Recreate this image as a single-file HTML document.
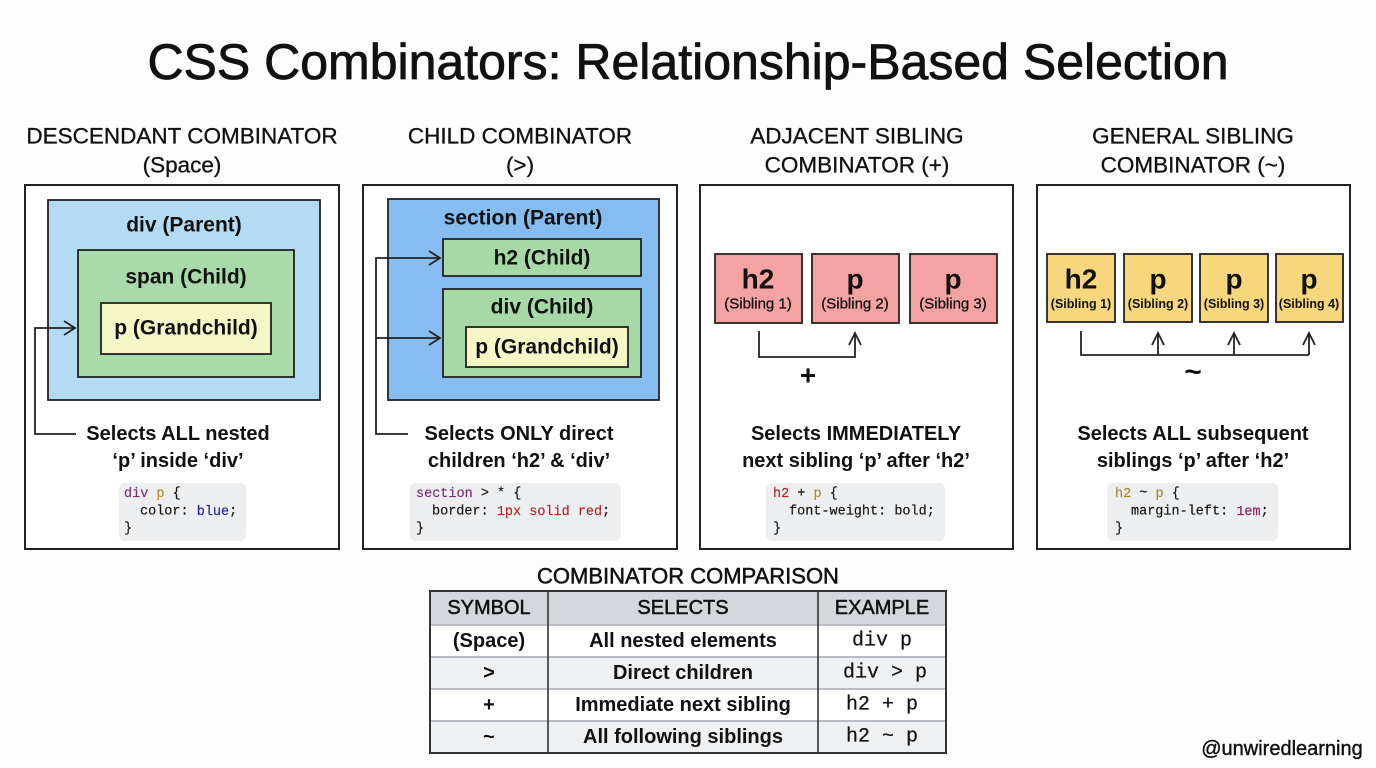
<!DOCTYPE html>
<html><head><meta charset="utf-8">
<style>
html,body{margin:0;padding:0;background:#fdfdfd;}
svg{display:block;}
.h{font-family:"Liberation Sans",sans-serif;fill:#111;}
.m{font-family:"Liberation Mono",monospace;}
</style></head>
<body>
<svg width="1376" height="768" viewBox="0 0 1376 768" xmlns="http://www.w3.org/2000/svg">
<rect width="1376" height="768" fill="#fdfdfd"/>
<!-- Title -->
<text x="688" y="62" class="h" font-size="50" text-anchor="middle" dominant-baseline="central" stroke="#111" stroke-width="0.8">CSS Combinators: Relationship-Based Selection</text>

<!-- Headers -->
<g class="h" font-size="22.5" text-anchor="middle" dominant-baseline="central" stroke="#111" stroke-width="0.3">
<text x="182" y="136">DESCENDANT COMBINATOR</text>
<text x="182" y="165">(Space)</text>
<text x="520" y="136">CHILD COMBINATOR</text>
<text x="520" y="165">(&gt;)</text>
<text x="857" y="136">ADJACENT SIBLING</text>
<text x="857" y="165">COMBINATOR (+)</text>
<text x="1193" y="136">GENERAL SIBLING</text>
<text x="1193" y="165">COMBINATOR (~)</text>
</g>

<!-- Panels -->
<g fill="#fff" stroke="#222" stroke-width="2">
<rect x="25" y="185" width="314" height="364"/>
<rect x="363" y="185" width="314" height="364"/>
<rect x="700" y="185" width="313" height="364"/>
<rect x="1037" y="185" width="313" height="364"/>
</g>

<g stroke="#222" stroke-width="1.8">
<rect x="48" y="200" width="272" height="200" fill="#b4dbf4"/>
<rect x="78" y="250" width="216" height="127" fill="#a8dba9"/>
<rect x="101" y="303" width="170" height="51" fill="#f4f6c6"/>
<rect x="388" y="199" width="271" height="201" fill="#86bcef"/>
<rect x="443" y="239" width="198" height="37" fill="#a6d9a6"/>
<rect x="443" y="289" width="198" height="88" fill="#a6d9a6"/>
<rect x="466" y="327" width="162" height="40" fill="#f4f6c6"/>
<rect x="715" y="254" width="87" height="69" fill="#f4a2a2"/>
<rect x="812" y="254" width="87" height="69" fill="#f4a2a2"/>
<rect x="910" y="254" width="87" height="69" fill="#f4a2a2"/>
<rect x="1047" y="254" width="68" height="68" fill="#f7d77d"/>
<rect x="1124" y="254" width="68" height="68" fill="#f7d77d"/>
<rect x="1200" y="254" width="68" height="68" fill="#f7d77d"/>
<rect x="1276" y="254" width="67" height="68" fill="#f7d77d"/>
</g>

<g class="h" font-size="21" font-weight="bold" text-anchor="middle" dominant-baseline="central">
<text x="184" y="225">div (Parent)</text>
<text x="186" y="277">span (Child)</text>
<text x="186" y="328">p (Grandchild)</text>
<text x="523" y="218">section (Parent)</text>
<text x="542" y="258">h2 (Child)</text>
<text x="542" y="307">div (Child)</text>
<text x="547" y="347">p (Grandchild)</text>
</g>
<g class="h" font-weight="bold" text-anchor="middle" dominant-baseline="central">
<text x="758" y="279" font-size="28">h2</text>
<text x="855" y="279" font-size="28">p</text>
<text x="953" y="279" font-size="28">p</text>
<text x="758" y="304" font-size="15" font-weight="normal" stroke="#111" stroke-width="0.3">(Sibling 1)</text>
<text x="855" y="304" font-size="15" font-weight="normal" stroke="#111" stroke-width="0.3">(Sibling 2)</text>
<text x="953" y="304" font-size="15" font-weight="normal" stroke="#111" stroke-width="0.3">(Sibling 3)</text>
<text x="1081" y="279" font-size="28">h2</text>
<text x="1158" y="279" font-size="28">p</text>
<text x="1234" y="279" font-size="28">p</text>
<text x="1309" y="279" font-size="28">p</text>
<text x="1081" y="304" font-size="12.5">(Sibling 1)</text>
<text x="1158" y="304" font-size="12.5">(Sibling 2)</text>
<text x="1234" y="304" font-size="12.5">(Sibling 3)</text>
<text x="1309" y="304" font-size="12.5">(Sibling 4)</text>
</g>

<g fill="none" stroke="#222" stroke-width="1.8" stroke-linejoin="miter">
<polyline points="76,434 35,434 35,328 75,328"/>
<polyline points="64,321 75,328 64,335"/>
<polyline points="408,434 376,434 376,258 440,258"/>
<line x1="376" y1="338" x2="440" y2="338"/>
<polyline points="429,251 440,258 429,265"/>
<polyline points="429,331 440,338 429,345"/>
<polyline points="759,331 759,357 855,357 855,333"/>
<polyline points="849,345 855,333 861,345"/>
<polyline points="1081,331 1081,355 1309,355"/>
<line x1="1158" y1="355" x2="1158" y2="333"/>
<line x1="1234" y1="355" x2="1234" y2="333"/>
<line x1="1309" y1="355" x2="1309" y2="333"/>
<polyline points="1152,345 1158,333 1164,345"/>
<polyline points="1228,345 1234,333 1240,345"/>
<polyline points="1303,345 1309,333 1315,345"/>
</g>
<text x="808" y="375" class="h" font-size="28" font-weight="bold" text-anchor="middle" dominant-baseline="central">+</text>
<text x="1193" y="372" class="h" font-size="30" font-weight="bold" text-anchor="middle" dominant-baseline="central">~</text>

<g class="h" font-size="20" font-weight="bold" text-anchor="middle" dominant-baseline="central">
<text x="178" y="434">Selects ALL nested</text>
<text x="178" y="461">‘p’ inside ‘div’</text>
<text x="519" y="434">Selects ONLY direct</text>
<text x="519" y="461">children ‘h2’ &amp; ‘div’</text>
<text x="856" y="434">Selects IMMEDIATELY</text>
<text x="856" y="461">next sibling ‘p’ after ‘h2’</text>
<text x="1193" y="434">Selects ALL subsequent</text>
<text x="1193" y="461">siblings ‘p’ after ‘h2’</text>
</g>

<g fill="#eceef0">
<rect x="119" y="483" width="127" height="58" rx="6"/>
<rect x="410" y="483" width="211" height="58" rx="6"/>
<rect x="766" y="483" width="179" height="58" rx="6"/>
<rect x="1107" y="483" width="171" height="58" rx="6"/>
</g>
<g class="m" font-size="13.5" fill="#111" dominant-baseline="central" stroke="#111" stroke-width="0.15">
<text x="124" y="494"><tspan fill="#7b2d7b" stroke="#7b2d7b">div</tspan> <tspan fill="#b8862b" stroke="#b8862b">p</tspan> {</text>
<text x="140" y="512">color: <tspan fill="#1c1c96" stroke="#1c1c96">blue</tspan>;</text>
<text x="124" y="529">}</text>
<text x="416" y="494"><tspan fill="#7b2d7b" stroke="#7b2d7b">section</tspan> &gt; * {</text>
<text x="432" y="512">border: <tspan fill="#b22222" stroke="#b22222">1px solid red</tspan>;</text>
<text x="416" y="529">}</text>
<text x="773" y="494"><tspan fill="#b22222" stroke="#b22222">h2</tspan> + <tspan fill="#b8862b" stroke="#b8862b">p</tspan> {</text>
<text x="789" y="512">font-weight: bold;</text>
<text x="773" y="529">}</text>
<text x="1115" y="494"><tspan fill="#a8862e" stroke="#a8862e">h2</tspan> ~ <tspan fill="#a8862e" stroke="#a8862e">p</tspan> {</text>
<text x="1131" y="512">margin-left: <tspan fill="#8b1c5c" stroke="#8b1c5c">1em</tspan>;</text>
<text x="1115" y="529">}</text>
</g>

<text x="688" y="576" class="h" font-size="22" text-anchor="middle" dominant-baseline="central" stroke="#111" stroke-width="0.5">COMBINATOR COMPARISON</text>
<rect x="430" y="591" width="516" height="34" fill="#d4d8dd"/>
<rect x="430" y="625" width="516" height="32" fill="#ffffff"/>
<rect x="430" y="657" width="516" height="32" fill="#eef0f2"/>
<rect x="430" y="689" width="516" height="32" fill="#ffffff"/>
<rect x="430" y="721" width="516" height="32" fill="#eef0f2"/>
<g stroke="#b8bcc2" stroke-width="2">
<line x1="430" y1="625" x2="946" y2="625"/>
<line x1="430" y1="657" x2="946" y2="657"/>
<line x1="430" y1="689" x2="946" y2="689"/>
<line x1="430" y1="721" x2="946" y2="721"/>
</g>
<g stroke="#333" stroke-width="1.6">
<line x1="548" y1="591" x2="548" y2="753"/>
<line x1="818" y1="591" x2="818" y2="753"/>
</g>
<rect x="430" y="591" width="516" height="162" fill="none" stroke="#333" stroke-width="2"/>
<g class="h" font-size="20" font-weight="bold" text-anchor="middle" dominant-baseline="central">
<text x="489" y="608" font-weight="normal" stroke="#111" stroke-width="0.5">SYMBOL</text>
<text x="683" y="608" font-weight="normal" stroke="#111" stroke-width="0.5">SELECTS</text>
<text x="882" y="608" font-weight="normal" stroke="#111" stroke-width="0.5">EXAMPLE</text>
<text x="489" y="641">(Space)</text>
<text x="489" y="673">&gt;</text>
<text x="489" y="705">+</text>
<text x="489" y="737">~</text>
<text x="683" y="641">All nested elements</text>
<text x="683" y="673">Direct children</text>
<text x="683" y="705">Immediate next sibling</text>
<text x="683" y="737">All following siblings</text>
</g>
<g class="m" font-size="20" fill="#111" text-anchor="middle" dominant-baseline="central" stroke="#111" stroke-width="0.2">
<text x="882" y="641">div p</text>
<text x="885" y="673">div &gt; p</text>
<text x="882" y="705">h2 + p</text>
<text x="882" y="737">h2 ~ p</text>
</g>

<text x="1282" y="749" class="h" font-size="20" text-anchor="middle" dominant-baseline="central" stroke="#111" stroke-width="0.4">@unwiredlearning</text>
</svg>
</body></html>
